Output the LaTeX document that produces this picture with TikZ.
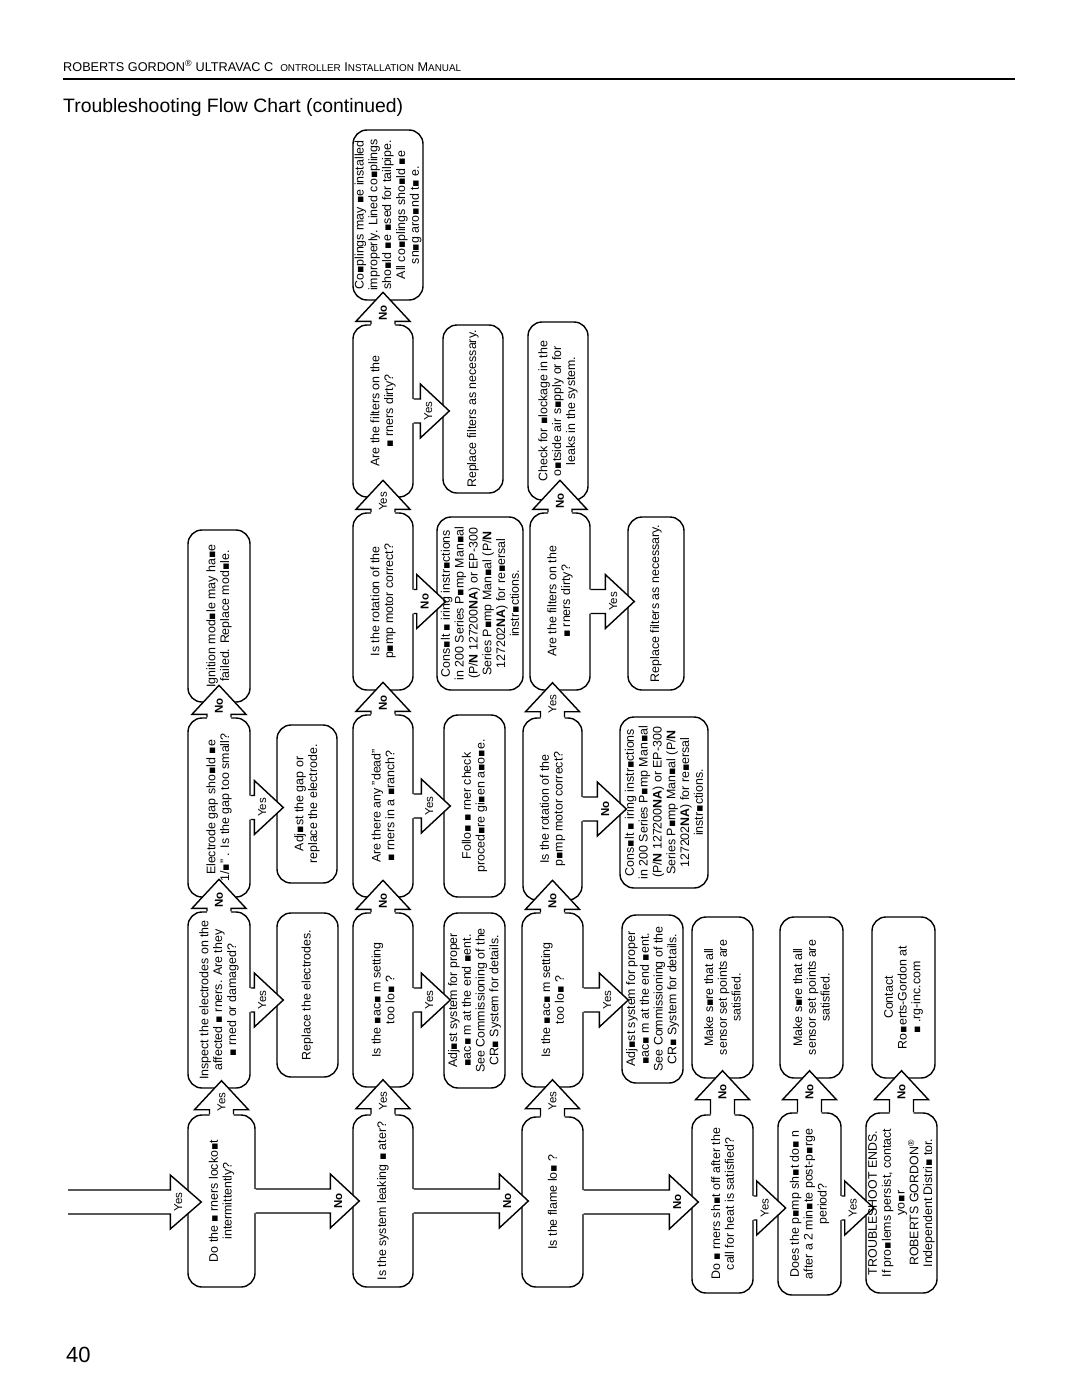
\documentclass[tikz,border=0pt]{standalone}
\usepackage{fontspec}
\setmainfont{Liberation Sans}
\newfontfamily\dejavufont{DejaVu Sans}
\usetikzlibrary{calc}
\pgfdeclarelayer{fg}
\pgfsetlayers{main,fg}
\newcommand{\sqm}{{\dejavufont\fontsize{11}{11}\selectfont ▪}}
\tikzset{
  boxframe/.style={draw, line width=1.4pt, rounded corners=14pt, rotate=90, inner sep=0pt},
  boxtext/.style={rotate=90, align=center, inner sep=0pt, font=\fontsize{12.4}{13.8}\selectfont},
  yeslbl/.style={rotate=90, inner sep=0pt, font=\fontsize{11.5}{12}\selectfont},
  nolbl/.style={rotate=90, inner sep=0pt, font=\fontsize{11.5}{12}\selectfont\bfseries},
  arrowline/.style={line width=1.4pt, line join=miter},
}
\newcommand{\flowbox}[6]{%
  \pgfmathsetmacro\fbw{#5-#4}\pgfmathsetmacro\fbh{#3-#2}%
  \pgfmathsetmacro\fbx{(#2+#3)/2}\pgfmathsetmacro\fby{(#4+#5)/2}%
  \node[boxframe, minimum width=\fbw pt, minimum height=\fbh pt] (#1) at (\fbx,\fby) {};
  \begin{pgfonlayer}{fg}\node[boxtext] (#1txt) at (#1.center) {#6};\end{pgfonlayer}}
\newcommand{\flowup}[4]{%
  \path let \p1=(#1.east), \p2=(#2.west), \p3=(#1.center),
    \n1={max(\y2-21pt,\y1+3pt)} in
    coordinate (s) at (\x3,\y1) coordinate (h) at (\x3,\n1) coordinate (t) at (\x3,\n1+29pt);
  \fill[white] ([xshift=-12pt,yshift=-3pt]s) -- ([xshift=-12pt]h) -- ([xshift=-27pt]h) -- (t) -- ([xshift=27pt]h) -- ([xshift=12pt]h) -- ([xshift=12pt,yshift=-3pt]s) -- cycle;
  \draw[arrowline] ([xshift=-12pt]s) -- ([xshift=-12pt]h) -- ([xshift=-27pt]h) -- (t) -- ([xshift=27pt]h) -- ([xshift=12pt]h) -- ([xshift=12pt]s);
  \node[#3] at ([yshift=8pt]h) {#4};}
\newcommand{\flowright}[5]{%
  \path let \p1=(#1.south), \p2=(#2.north), \p3=(#1.center),
    \n1={max(\x2-22pt,\x1+3pt)}, \n2={\y3-(#3)*1pt} in
    coordinate (s) at (\x1,\n2) coordinate (h) at (\n1,\n2) coordinate (t) at (\n1+29pt,\n2);
  \fill[white] ([xshift=-3pt,yshift=-12pt]s) -- ([yshift=-12pt]h) -- ([yshift=-27pt]h) -- (t) -- ([yshift=27pt]h) -- ([yshift=12pt]h) -- ([xshift=-3pt,yshift=12pt]s) -- cycle;
  \draw[arrowline] ([yshift=-12pt]s) -- ([yshift=-12pt]h) -- ([yshift=-27pt]h) -- (t) -- ([yshift=27pt]h) -- ([yshift=12pt]h) -- ([yshift=12pt]s);
  \node[#4] at ([xshift=8pt]h) {#5};}
\begin{document}
\begin{tikzpicture}[x=1pt,y=-1pt]
\fill[white] (0,0) rectangle (1080,1397);
\useasboundingbox (0,0) rectangle (1080,1397);
% header
\node[anchor=base west, inner sep=0pt, font=\fontsize{12.7}{14}\selectfont] (hdr) at (63,71)
  {ROBERTS GORDON\textsuperscript{®} ULTRAVAC C\ \ {\fontsize{9.9}{11}\selectfont ONTROLLER} I{\fontsize{9.9}{11}\selectfont NSTALLATION} M{\fontsize{9.9}{11}\selectfont ANUAL}};
\coordinate (ruleL) at (63,79);
\coordinate (ruleR) at (1015,79);
\draw[line width=2pt] (ruleL) -- (ruleR);
\node[anchor=base west, inner sep=0pt, font=\fontsize{19.4}{23}\selectfont] (title) at (63,112) {Troubleshooting Flow Chart (continued)};
\node[anchor=base west, inner sep=0pt, font=\fontsize{22}{26}\selectfont] (pageno) at (66,1362) {40};
% column A
\flowbox{A1}{188}{255}{1115}{1287}{Do the \sqm{} rners locko\sqm t\\intermittently?}
\flowbox{A2}{188}{250}{912}{1088}{Inspect the electrodes on the\\affected \sqm{} rners. Are they\\\sqm{} rned or damaged?}
\flowbox{A3}{188}{250}{718}{897}{Electrode gap sho\sqm ld \sqm e\\1/\sqm" . Is the gap too small?}
\flowbox{A4}{188}{250}{530}{702}{Ignition mod\sqm le may ha\sqm e\\failed. Replace mod\sqm le.}
% column B
\flowbox{B1}{277}{337}{725}{883}{Adj\sqm st the gap or\\replace the electrode.}
\flowbox{B2}{277}{338}{913}{1077}{Replace the electrodes.}
% column C
\flowbox{C1}{353}{413}{1115}{1287}{Is the system leaking \sqm{} ater?}
\flowbox{C2}{353}{413}{913}{1087}{Is the \sqm ac\sqm{} m setting\\too lo\sqm{} ?}
\flowbox{C3}{353}{413}{715}{897}{Are there any "dead"\\\sqm{} rners in a \sqm ranch?}
\flowbox{C4}{353}{413}{513}{690}{Is the rotation of the\\p\sqm mp motor correct?}
\flowbox{C5}{353}{413}{325}{497}{Are the filters on the\\\sqm{} rners dirty?}
\flowbox{C6}{353}{423}{130}{300}{Co\sqm plings may \sqm e installed\\improperly. Lined co\sqm plings\\sho\sqm ld \sqm e \sqm sed for tailpipe.\\All co\sqm plings sho\sqm ld \sqm e\\sn\sqm g aro\sqm nd t\sqm{} e.}
% column D
\flowbox{D1}{444}{505}{913}{1088}{Adj\sqm st system for proper\\\sqm ac\sqm{} m at the end \sqm ent.\\See Commissioning of the\\CR\sqm{} System for details.}
\flowbox{D2}{444}{505}{715}{897}{Follo\sqm{} \sqm{} rner check\\proced\sqm re gi\sqm en a\sqm o\sqm e.}
\flowbox{D3}{437}{523}{517}{690}{Cons\sqm lt \sqm{} iring instr\sqm ctions\\in 200 Series P\sqm mp Man\sqm al\\(P/\textbf{N} 127200\textbf{NA}) or EP-300\\Series P\sqm mp Man\sqm al (P/\textbf{N}\\127202\textbf{NA}) for re\sqm ersal\\instr\sqm ctions.}
\flowbox{D4}{443}{503}{325}{493}{Replace filters as necessary.}
% column E
\flowbox{E1}{522}{583}{1117}{1287}{Is the flame lo\sqm{} ?}
\flowbox{E2}{522}{583}{913}{1087}{Is the \sqm ac\sqm{} m setting\\too lo\sqm{} ?}
\flowbox{E3}{523}{582}{718}{900}{Is the rotation of the\\p\sqm mp motor correct?}
\flowbox{E4}{530}{590}{513}{690}{Are the filters on the\\\sqm{} rners dirty?}
\flowbox{E5}{528}{588}{322}{500}{Check for \sqm lockage in the\\o\sqm tside air s\sqm pply or for\\leaks in the system.}
% column F
\flowbox{F1}{622}{683}{915}{1083}{Adj\sqm st system for proper\\\sqm ac\sqm{} m at the end \sqm ent.\\See Commissioning of the\\CR\sqm{} System for details.}
\flowbox{F2}{620}{708}{717}{888}{Cons\sqm lt \sqm{} iring instr\sqm ctions\\in 200 Series P\sqm mp Man\sqm al\\(P/\textbf{N} 127200\textbf{NA}) or EP-300\\Series P\sqm mp Man\sqm al (P/\textbf{N}\\127202\textbf{NA}) for re\sqm ersal\\instr\sqm ctions.}
\flowbox{F3}{628}{684}{517}{690}{Replace filters as necessary.}
% columns G, H, I
\flowbox{G1}{692}{753}{1115}{1293}{Do \sqm{} rners sh\sqm t off after the\\call for heat is satisfied?}
\flowbox{G2}{692}{753}{917}{1078}{Make s\sqm re that all\\sensor set points are\\satisfied.}
\flowbox{H1}{778}{841}{1113}{1295}{Does the p\sqm mp sh\sqm t do\sqm{} n\\after a 2 min\sqm te post-p\sqm rge\\period?}
\flowbox{H2}{780}{843}{917}{1078}{Make s\sqm re that all\\sensor set points are\\satisfied.}
\flowbox{I1}{866}{937}{1113}{1293}{TROUBLESHOOT ENDS.\\If pro\sqm lems persist, contact\\yo\sqm r\\ROBERTS GORDON\textsuperscript{®}\\Independent Distri\sqm{} tor.}
\flowbox{I2}{872}{935}{917}{1078}{Contact\\Ro\sqm erts-Gordon at\\\sqm{} .rg-inc.com}
% entry arrow
\coordinate (entry) at (68,1202);
\path let \p1=(entry), \p2=(A1.north) in
  coordinate (s) at (\x1,\y1) coordinate (h) at (\x2-17pt,\y1) coordinate (t) at (\x2+14pt,\y1);
\fill[white] ([yshift=-12pt]h) -- ([yshift=-27pt]h) -- (t) -- ([yshift=27pt]h) -- ([yshift=12pt]h) -- cycle;
\draw[arrowline] ([yshift=-12pt]s) -- ([yshift=-12pt]h) -- ([yshift=-27pt]h) -- (t) -- ([yshift=27pt]h) -- ([yshift=12pt]h) -- ([yshift=12pt]s);
\node[yeslbl] (entrylbl) at ([xshift=8pt]h) {Yes};
% arrows
\flowup{A1}{A2}{yeslbl}{Yes}
\flowright{A1}{C1}{0}{nolbl}{No}
\flowup{A2}{A3}{nolbl}{No}
\flowright{A2}{B2}{0}{yeslbl}{Yes}
\flowup{A3}{A4}{nolbl}{No}
\flowright{A3}{B1}{0}{yeslbl}{Yes}
\flowup{C1}{C2}{yeslbl}{Yes}
\flowright{C1}{E1}{0}{nolbl}{No}
\flowup{C2}{C3}{nolbl}{No}
\flowright{C2}{D1}{0}{yeslbl}{Yes}
\flowup{C3}{C4}{nolbl}{No}
\flowright{C3}{D2}{0}{yeslbl}{Yes}
\flowup{C4}{C5}{yeslbl}{Yes}
\flowright{C4}{D3}{0}{nolbl}{No}
\flowup{C5}{C6}{nolbl}{No}
\flowright{C5}{D4}{0}{yeslbl}{Yes}
\flowup{E1}{E2}{yeslbl}{Yes}
\flowright{E1}{G1}{0}{nolbl}{No}
\flowup{E2}{E3}{nolbl}{No}
\flowright{E2}{F1}{0}{yeslbl}{Yes}
\flowup{E3}{E4}{yeslbl}{Yes}
\flowright{E3}{F2}{0}{nolbl}{No}
\flowup{E4}{E5}{nolbl}{No}
\flowright{E4}{F3}{0}{yeslbl}{Yes}
\flowup{G1}{G2}{nolbl}{No}
\flowright{G1}{H1}{4}{yeslbl}{Yes}
\flowup{H1}{H2}{nolbl}{No}
\flowright{H1}{I1}{4}{yeslbl}{Yes}
\flowup{I1}{I2}{nolbl}{No}
\end{tikzpicture}
\end{document}
